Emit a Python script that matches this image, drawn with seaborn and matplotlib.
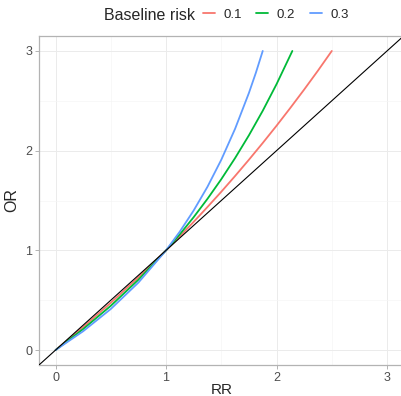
import matplotlib
matplotlib.use("Agg")
import matplotlib.pyplot as plt
import pandas as pd
import seaborn as sns

# values (OR against RR for three baseline risks)
rr_01 = [0, 0.25, 0.5, 0.75, 1.0, 1.125, 1.25, 1.375, 1.5, 1.625, 1.75, 1.875, 2.0, 2.125, 2.25, 2.375, 2.5]
or_01 = [0, 0.231, 0.474, 0.730, 1.0, 1.141, 1.286, 1.435, 1.588, 1.746, 1.909, 2.077, 2.25, 2.429, 2.613, 2.803, 3.0]

rr_02 = [0, 0.25, 0.5, 0.75, 1.0, 1.125, 1.25, 1.375, 1.5, 1.625, 1.75, 1.875, 2.0, 2.143]
or_02 = [0, 0.211, 0.444, 0.706, 1.0, 1.161, 1.333, 1.517, 1.714, 1.926, 2.154, 2.4, 2.667, 3.0]

rr_03 = [0, 0.25, 0.5, 0.75, 1.0, 1.125, 1.25, 1.375, 1.5, 1.625, 1.75, 1.8125, 1.875]
or_03 = [0, 0.189, 0.412, 0.677, 1.0, 1.189, 1.4, 1.638, 1.909, 2.220, 2.579, 2.780, 3.0]

risk_labels = ["0.1", "0.2", "0.3"]
colors = ["#F8766D", "#00BA38", "#619CFF"]

frames = []
for lab, xs, ys in zip(risk_labels, [rr_01, rr_02, rr_03], [or_01, or_02, or_03]):
    frames.append(pd.DataFrame({"RR": xs, "OR": ys, "risk": lab}))
df = pd.concat(frames, ignore_index=True)

sns.set_style("white")
plt.rcParams["font.family"] = ["Liberation Sans", "DejaVu Sans"]

fig = plt.figure(figsize=(4.02, 3.96), dpi=100)
ax = fig.add_axes([39 / 402, 31 / 396, 1 - 39 / 402 + 0.004, 329 / 396])

lims = (-0.15, 3.15)
ax.set_xlim(*lims)
ax.set_ylim(*lims)
ax.set_xticks([0, 1, 2, 3])
ax.set_yticks([0, 1, 2, 3])
ax.set_xticks([0.5, 1.5, 2.5], minor=True)
ax.set_yticks([0.5, 1.5, 2.5], minor=True)
ax.grid(which="major", color="#ebebeb", linewidth=0.7)
ax.grid(which="minor", color="#f5f5f5", linewidth=0.5)
ax.set_axisbelow(True)
for sp in ax.spines.values():
    sp.set_color("#b3b3b3")
    sp.set_linewidth(0.9)

sns.lineplot(data=df, x="RR", y="OR", hue="risk", palette=colors, linewidth=1.3,
             sort=False, estimator=None, ax=ax, legend=False, zorder=3)
ax.axline((0, 0), slope=1, color="black", linewidth=0.8, zorder=4)

ax.tick_params(axis="both", which="major", length=3, width=0.7, color="#b3b3b3",
               labelsize=9, labelcolor="#4d4d4d", pad=2, bottom=True, left=True)
ax.tick_params(axis="both", which="minor", length=0)
ax.set_xlabel("RR", fontsize=11, labelpad=-1)
ax.set_ylabel("OR", fontsize=11.5, labelpad=4)

fig.text(195 / 402, 1 - 15 / 396, "Baseline risk", fontsize=11.5, ha="right", va="center")
handles = [plt.Line2D([], [], color=c, linewidth=1.3) for c in colors]
fig.legend(handles, risk_labels, ncol=3, loc="center left", bbox_to_anchor=(203 / 402, 1 - 15 / 396),
           frameon=False, fontsize=9.5, handlelength=0.9, handletextpad=0.65, columnspacing=1.1,
           borderaxespad=0, borderpad=0)

fig.savefig("out.png", dpi=100)
